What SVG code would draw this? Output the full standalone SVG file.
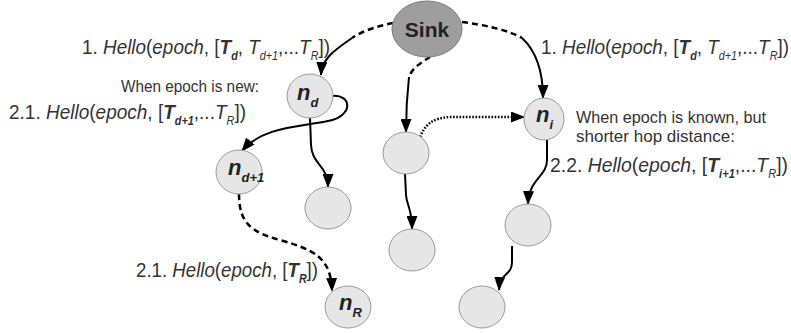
<svg xmlns="http://www.w3.org/2000/svg" width="791" height="333" viewBox="0 0 791 333">
<style>
.t{font-family:"Liberation Sans",Arial,sans-serif;font-size:21px;fill:#333}
.s{font-family:"Liberation Sans",Arial,sans-serif;font-size:17px;fill:#333}
.i{font-style:italic}
.bi{font-style:italic;font-weight:bold}
.sub{font-size:12px}
.node{fill:#e6e6e6;stroke:#9a9a9a;stroke-width:1}
.sink{fill:#9e9e9e;stroke:#7a7a7a;stroke-width:1}
.lbl{font-family:"Liberation Sans",Arial,sans-serif;font-size:22px;font-weight:bold;font-style:italic;fill:#222}
.lsub{font-size:13px}
.c{fill:none;stroke:#000;stroke-width:2}
.dash{stroke-dasharray:6,4;stroke-width:2.5}
.dot{stroke-dasharray:1.6,1.6;stroke-width:2.5}
.arr{marker-end:url(#ah)}
</style>
<defs>
<marker id="ah" viewBox="0 0 14 11" refX="13" refY="5.5" markerWidth="14" markerHeight="11" markerUnits="userSpaceOnUse" orient="auto">
<path d="M0,0 L14,5.5 L0,11 z" fill="#000"/>
</marker>
</defs>
<g id="connectors">
<path class="c dash" d="M393,23 C378,26 362,31 352,38"/>
<path class="c arr" d="M352,38 C335,50 322,58 321,75"/>
<path class="c dash" d="M462,22 C485,25 508,30 522,38"/>
<path class="c arr" d="M522,38 C535,50 543,70 543,98"/>
<path class="c dash" d="M430,57 C422,62 412,68 409,77"/>
<path class="c arr" d="M409,77 C407,95 406,110 406,132"/>
<path class="c dot arr" d="M420,137 C425,125 432,118 450,117 L524,117"/>
<path class="c arr" d="M332,96 C352,94 354,116 328,121 C298,127 262,127 242,151"/>
<path class="c arr" d="M310,118 L311,145 C312,165 328,165 328,187"/>
<path class="c dash arr" d="M239,194 C239,222 250,232 280,240 C315,250 331,258 332,291"/>
<path class="c arr" d="M405,174 L406,195 C407,207 412,208 412,229"/>
<path class="c arr" d="M547,140 L547,160 C547,177 529,178 528,204"/>
<path class="c arr" d="M512,246 L512,262 C512,276 500,272 499,290"/>
</g>
<g id="sink"><ellipse class="sink" cx="427" cy="29" rx="35" ry="28"/><text x="427" y="37" text-anchor="middle" style="font-family:'Liberation Sans',Arial,sans-serif;font-size:21px;font-weight:bold;fill:#222">Sink</text></g>
<g id="nd"><ellipse class="node" cx="310" cy="96" rx="23" ry="22"/><text class="lbl" x="297" y="100">n<tspan class="lsub" dy="7">d</tspan></text></g>
<g id="nd1"><ellipse class="node" cx="239" cy="172" rx="23" ry="22"/><text class="lbl" x="228" y="175">n<tspan class="lsub" dy="7">d+1</tspan></text></g>
<g id="c1"><ellipse class="node" cx="328" cy="208" rx="23" ry="21"/></g>
<g id="nR"><ellipse class="node" cx="348" cy="307" rx="23" ry="21"/><text class="lbl" x="339" y="310">n<tspan class="lsub" dy="7">R</tspan></text></g>
<g id="m1"><ellipse class="node" cx="406" cy="153" rx="23" ry="21"/></g>
<g id="m2"><ellipse class="node" cx="412" cy="250" rx="23" ry="21"/></g>
<g id="ni"><ellipse class="node" cx="544" cy="119" rx="20" ry="21"/><text class="lbl" x="536" y="122">n<tspan class="lsub" dy="7">i</tspan></text></g>
<g id="r1"><ellipse class="node" cx="528" cy="225" rx="23" ry="21"/></g>
<g id="r2"><ellipse class="node" cx="482" cy="307" rx="23" ry="21"/></g>
<g id="labels">
<text class="t" x="82" y="54" textLength="248" lengthAdjust="spacingAndGlyphs">1. <tspan class="i">Hello</tspan>(<tspan class="i">epoch</tspan>, [<tspan class="bi">T</tspan><tspan class="bi sub" dy="6">d</tspan><tspan dy="-6">, </tspan><tspan class="i">T</tspan><tspan class="i sub" dy="6">d+1</tspan><tspan dy="-6">,...</tspan><tspan class="i">T</tspan><tspan class="i sub" dy="6">R</tspan><tspan dy="-6">])</tspan></text>
<text class="t" x="541" y="54" textLength="248" lengthAdjust="spacingAndGlyphs">1. <tspan class="i">Hello</tspan>(<tspan class="i">epoch</tspan>, [<tspan class="bi">T</tspan><tspan class="bi sub" dy="6">d</tspan><tspan dy="-6">, </tspan><tspan class="i">T</tspan><tspan class="i sub" dy="6">d+1</tspan><tspan dy="-6">,...</tspan><tspan class="i">T</tspan><tspan class="i sub" dy="6">R</tspan><tspan dy="-6">])</tspan></text>
<text class="s" x="121" y="92" textLength="138" lengthAdjust="spacingAndGlyphs">When epoch is new:</text>
<text class="t" x="9" y="119" textLength="237" lengthAdjust="spacingAndGlyphs">2.1. <tspan class="i">Hello</tspan>(<tspan class="i">epoch</tspan>, [<tspan class="bi">T</tspan><tspan class="bi sub" dy="6">d+1</tspan><tspan dy="-6">,...</tspan><tspan class="i">T</tspan><tspan class="i sub" dy="6">R</tspan><tspan dy="-6">])</tspan></text>
<text class="s" x="576" y="123" textLength="190" lengthAdjust="spacingAndGlyphs">When epoch is known, but</text>
<text class="s" x="576" y="142" textLength="159" lengthAdjust="spacingAndGlyphs">shorter hop distance:</text>
<text class="t" x="550" y="172" textLength="238" lengthAdjust="spacingAndGlyphs">2.2. <tspan class="i">Hello</tspan>(<tspan class="i">epoch</tspan>, [<tspan class="bi">T</tspan><tspan class="bi sub" dy="6">i+1</tspan><tspan dy="-6">,...</tspan><tspan class="i">T</tspan><tspan class="i sub" dy="6">R</tspan><tspan dy="-6">])</tspan></text>
<text class="t" x="136" y="277" textLength="182" lengthAdjust="spacingAndGlyphs">2.1. <tspan class="i">Hello</tspan>(<tspan class="i">epoch</tspan>, [<tspan class="bi">T</tspan><tspan class="bi sub" dy="6">R</tspan><tspan dy="-6">])</tspan></text>
</g>
</svg>
